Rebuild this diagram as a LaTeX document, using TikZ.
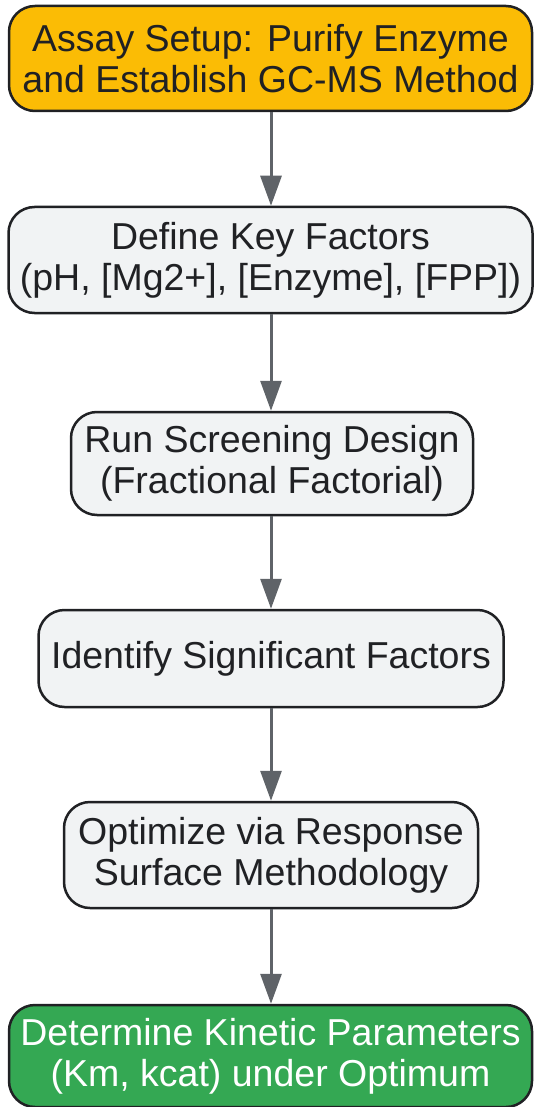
\documentclass[tikz,border=0pt]{standalone}
\usepackage{fontspec}
\setmainfont{Liberation Sans}
\usetikzlibrary{arrows.meta}
\definecolor{orangefill}{HTML}{FBBC05}
\definecolor{greenfill}{HTML}{34A853}
\definecolor{greyfill}{HTML}{F1F3F4}
\definecolor{edgecol}{HTML}{202124}
\definecolor{arrowcol}{HTML}{5F6368}
\begin{document}
\begin{tikzpicture}[x=1pt,y=-1pt,
  box/.style={draw=edgecol, line width=2.5pt, rounded corners=26pt, fill=greyfill,
    text=edgecol, align=center, inner sep=0pt,
    font=\fontsize{37.5}{41}\selectfont},
  conn/.style={draw=arrowcol, line width=3pt, -{Triangle[length=30pt,width=21pt]}}]
\useasboundingbox (0,0) rectangle (534,1107);
\node[box, fill=orangefill, minimum width=523pt, minimum height=105pt] (b1) at (270.5,58.5)
  {Assay Setup: Purify Enzyme\\and Establish GC-MS Method};
\node[box, minimum width=524pt, minimum height=106pt] (b2) at (270.5,260)
  {Define Key Factors\\(pH, [Mg2+], [Enzyme], [FPP])};
\node[box, minimum width=402pt, minimum height=103pt] (b3) at (272,463.5)
  {Run Screening Design\\(Fractional Factorial)};
\node[box, minimum width=465pt, minimum height=97pt] (b4) at (271,658.5)
  {Identify Significant Factors};
\node[box, minimum width=414pt, minimum height=106pt] (b5) at (271,855)
  {Optimize via Response\\Surface Methodology};
\node[box, fill=greenfill, text=white, minimum width=523pt, minimum height=102pt] (b6) at (270.5,1056)
  {Determine Kinetic Parameters\\(Km, kcat) under Optimum};
\draw[conn] (b1.south -| 271,0) -- (b2.north -| 271,0);
\draw[conn] (b2.south -| 271,0) -- (b3.north -| 271,0);
\draw[conn] (b3.south -| 271,0) -- (b4.north -| 271,0);
\draw[conn] (b4.south -| 271,0) -- (b5.north -| 271,0);
\draw[conn] (b5.south -| 271,0) -- (b6.north -| 271,0);
\end{tikzpicture}
\end{document}
